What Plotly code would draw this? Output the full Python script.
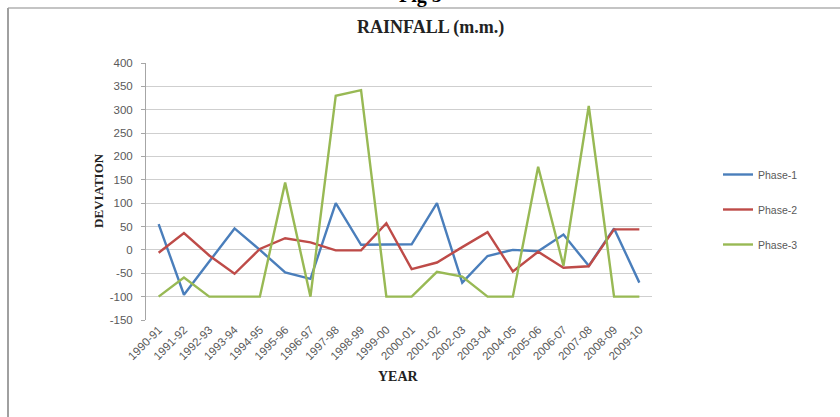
import plotly.graph_objects as go

# Seasonal rainfall deviation (mm) for each year, three phases
years = ["1990-91", "1991-92", "1992-93", "1993-94", "1994-95", "1995-96",
         "1996-97", "1997-98", "1998-99", "1999-00", "2000-01", "2001-02",
         "2002-03", "2003-04", "2004-05", "2005-06", "2006-07", "2007-08",
         "2008-09", "2009-10"]

phase1 = [55, -96, -25, 46, 0, -48, -62, 100, 11, 11, 12, 100,
          -70, -13, 0, -3, 33, -34, 46, -70]
phase2 = [-6, 36, -12, -51, 2, 25, 16, -1, -1, 57, -41, -27,
          6, 38, -46, -4, -38, -35, 44, 44]
phase3 = [-100, -59, -100, -100, -100, 144, -100, 330, 342, -100, -100, -47,
          -57, -100, -100, 178, -34, 308, -100, -100]

series_names = ["Phase-1", "Phase-2", "Phase-3"]
series_colors = ["#4a7ebb", "#be4b48", "#98b954"]
y_ticks = list(range(-150, 401, 50))
y_tick_text = [str(v) for v in y_ticks]

fig = go.Figure()
for name, vals, col in zip(series_names, [phase1, phase2, phase3], series_colors):
    fig.add_trace(go.Scatter(
        x=years, y=vals, name=name, mode="lines", legendgroup=name,
        line=dict(color=col, width=2.4),
    ))

tick_font = dict(family="Liberation Sans, Arial, sans-serif", size=11.5, color="#595959")
serif_bold = "Liberation Serif, Times New Roman, serif"

# plot area in pixels: x 146..652, y 63..320
L, R, T, B = 146, 652, 63, 320
W, H = 840, 417


def px(x):
    return (x - L) / (R - L)


def py(y):
    return (B - y) / (B - T)


fig.update_layout(
    width=W, height=H,
    margin=dict(l=L, r=W - R, t=T, b=H - B),
    paper_bgcolor="white", plot_bgcolor="white",
    showlegend=True,
    legend=dict(
        x=px(718), y=py(160), xanchor="left", yanchor="top",
        font=dict(family="Liberation Sans, Arial, sans-serif", size=10.5, color="#595959"),
        tracegroupgap=16, itemwidth=30, bgcolor="rgba(0,0,0,0)",
    ),
    xaxis=dict(
        type="category", categoryorder="array", categoryarray=years,
        range=[-0.5, len(years) - 0.5],
        tickangle=-45, tickfont=tick_font, ticks="",
        showgrid=False, showline=False, zeroline=False,
    ),
    xaxis2=dict(
        type="category", categoryorder="array", categoryarray=years,
        range=[-0.5, len(years) - 0.5], overlaying="x", anchor="free",
        position=py(B - (B - T) * 150 / 550), side="bottom",
        showticklabels=False, ticks="outside", ticklen=4, tickcolor="#a6a6a6",
        tickson="boundaries", showline=True, linecolor="#a6a6a6", linewidth=1,
        showgrid=False, zeroline=False,
    ),
    yaxis=dict(
        range=[-150, 400], tickvals=y_ticks, ticktext=y_tick_text, tickfont=tick_font,
        showgrid=True, gridcolor="#cfcfcf", gridwidth=1,
        showline=True, linecolor="#a6a6a6", linewidth=1,
        ticks="outside", ticklen=4, tickcolor="#a6a6a6", ticklabelstandoff=6,
        zeroline=False,
    ),
    annotations=[
        dict(text="<b>RAINFALL (m.m.)</b>", xref="paper", yref="paper",
             x=px(430), y=py(27), xanchor="center", yanchor="middle",
             showarrow=False, font=dict(family=serif_bold, size=18, color="#222222")),
        dict(text="<b>DEVIATION</b>", xref="paper", yref="paper",
             x=px(98), y=py(191), xanchor="center", yanchor="middle", textangle=-90,
             showarrow=False, font=dict(family=serif_bold, size=13, color="#222222")),
        dict(text="<b>YEAR</b>", xref="paper", yref="paper",
             x=px(398), y=py(376), xanchor="center", yanchor="middle",
             showarrow=False, font=dict(family=serif_bold, size=14, color="#222222")),
        dict(text="<b>Fig 5</b>", xref="paper", yref="paper",
             x=px(420), y=py(9), xanchor="center", yanchor="bottom",
             showarrow=False, font=dict(family=serif_bold, size=20, color="#000000")),
    ],
    shapes=[
        dict(type="line", xref="paper", yref="paper",
             x0=px(8), x1=px(840), y0=py(8), y1=py(8),
             line=dict(color="#b0b0b0", width=1.5)),
        dict(type="line", xref="paper", yref="paper",
             x0=px(8), x1=px(8), y0=py(8), y1=py(417),
             line=dict(color="#a0a0a0", width=2)),
    ],
)

fig.write_html("out.html")
